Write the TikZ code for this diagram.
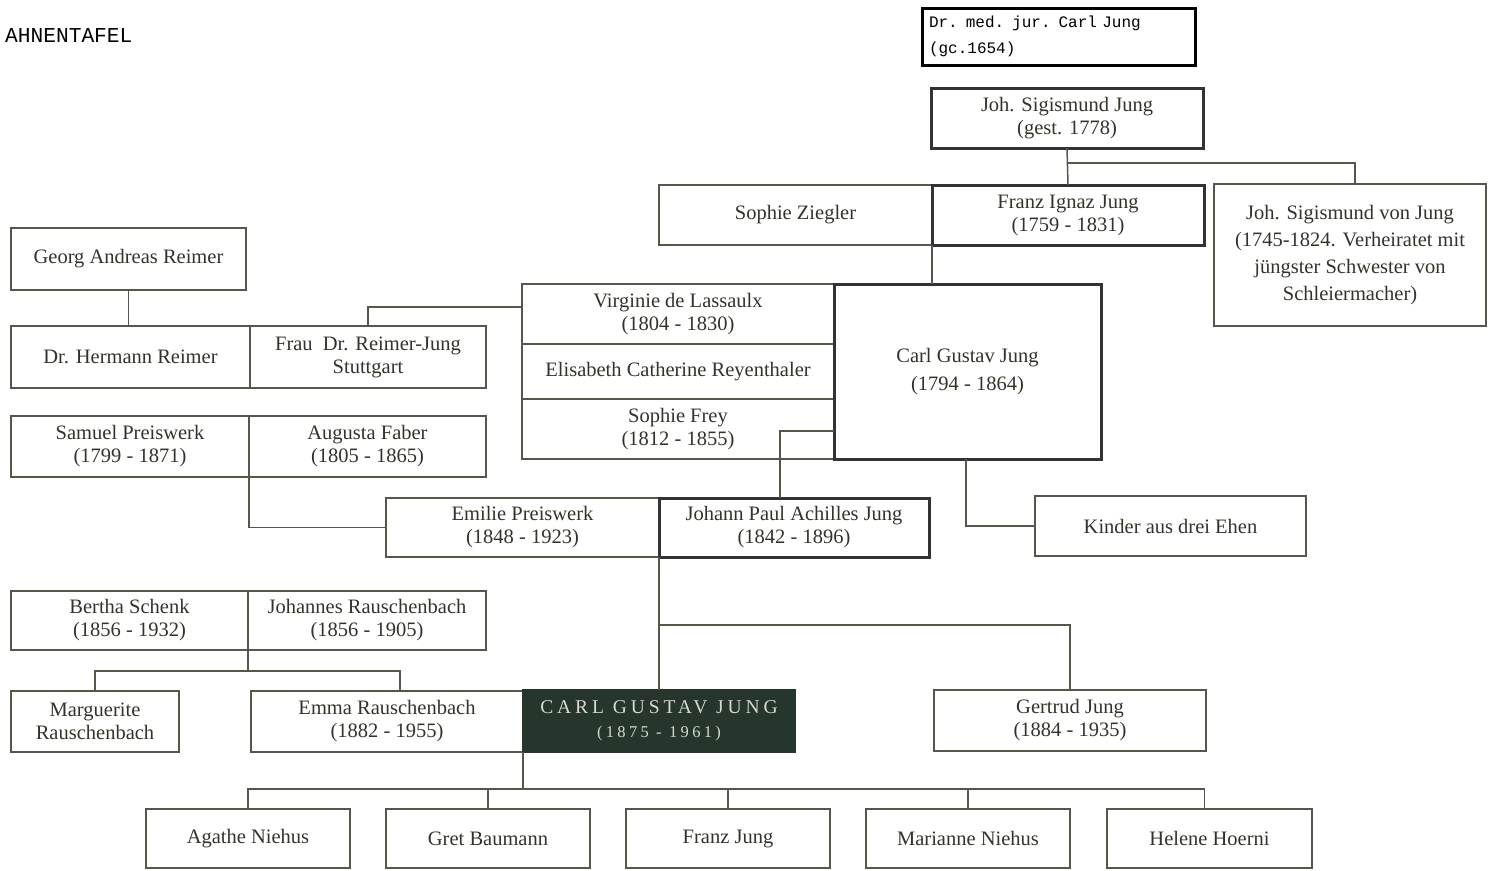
\documentclass[tikz,border=0pt]{standalone}
\usepackage{fontspec}
\setmainfont{Liberation Serif}
\newfontfamily\monof{Liberation Mono}
\newfontfamily\capsf[LetterSpace=20]{Liberation Serif}
\definecolor{ink}{HTML}{33332A}
\definecolor{rulec}{HTML}{55574B}
\definecolor{cgjc}{HTML}{26362C}
\definecolor{capt}{HTML}{D8D8D0}
\tikzset{
  box/.style={draw=rulec, line width=1.6pt, inner sep=0pt, outer sep=0pt, align=center, text=ink, font=\fontsize{20.5}{23}\selectfont},
  heavy/.style={box, draw=black!80, line width=3pt},
  mainbox/.style={box, fill=cgjc, draw=cgjc, text=capt},
  link/.style={draw=rulec, line width=1.5pt},
}
\newcommand{\pbox}[7][box]{\node[#1, minimum width={#5-#3}, minimum height={#6-#4}] (#2) at ({(#3+#5)/2},{(#4+#6)/2}) {#7};}
\begin{document}
\begin{tikzpicture}[x=1pt,y=-1pt]
\useasboundingbox[fill=white] (0,0) rectangle (1490,870);
\node[anchor=west, inner sep=0pt, font=\monof\fontsize{21.2}{24}\selectfont, text=black] (title) at (5,36) {AHNENTAFEL};
\pbox[box, draw=black, line width=3pt, text=black, text width=259pt, align=left, font=\monof\fontsize{16}{26}\selectfont]{dr}{922}{8}{1195}{65}{Dr. med. jur. Carl Jung\\(gc.1654)}
\pbox[heavy]{johsig}{931}{88}{1203}{148}{Joh. Sigismund Jung\\(gest. 1778)}
\pbox{sophz}{659}{185}{932}{245}{Sophie Ziegler}
\pbox[heavy]{franz}{932}{185}{1204}{245}{Franz Ignaz Jung\\(1759 - 1831)}
\pbox[box, font=\fontsize{20.5}{27}\selectfont]{johvon}{1214}{184}{1486}{326}{Joh. Sigismund von Jung\\(1745-1824. Verheiratet mit\\jüngster Schwester von\\Schleiermacher)}
\pbox{georg}{11}{228}{246}{290}{Georg Andreas Reimer}
\pbox{hermann}{11}{326}{250}{388}{Dr. Hermann Reimer}
\pbox{frau}{250}{326}{486}{388}{Frau~ Dr. Reimer-Jung\\Stuttgart}
\pbox{samuel}{11}{416}{249}{477}{Samuel Preiswerk\\(1799 - 1871)}
\pbox{augusta}{249}{416}{486}{477}{Augusta Faber\\(1805 - 1865)}
\pbox{virginie}{522}{284}{834}{344}{Virginie de Lassaulx\\(1804 - 1830)}
\pbox{elisabeth}{522}{344}{834}{399}{Elisabeth Catherine Reyenthaler}
\pbox{sophief}{522}{399}{834}{459}{Sophie Frey\\(1812 - 1855)}
\pbox[heavy, font=\fontsize{20.5}{28}\selectfont]{cg}{834}{284}{1101}{459}{Carl Gustav Jung\\(1794 - 1864)}
\pbox{emilie}{386}{498}{659}{557}{Emilie Preiswerk\\(1848 - 1923)}
\pbox[heavy]{johann}{659}{498}{929}{557}{Johann Paul Achilles Jung\\(1842 - 1896)}
\pbox{kinder}{1035}{496}{1306}{556}{Kinder aus drei Ehen}
\pbox{bertha}{11}{591}{248}{650}{Bertha Schenk\\(1856 - 1932)}
\pbox{johannes}{248}{591}{486}{650}{Johannes Rauschenbach\\(1856 - 1905)}
\pbox{marg}{11}{691}{179}{752}{Marguerite\\Rauschenbach}
\pbox{emma}{251}{691}{523}{752}{Emma Rauschenbach\\(1882 - 1955)}
\pbox[mainbox, font=\capsf\fontsize{19.5}{24}\selectfont]{cgjung}{523}{690}{795}{752}{CARL GUSTAV JUNG\\{\fontsize{16.5}{24}\selectfont (1875 - 1961)}}
\pbox{gertrud}{934}{690}{1206}{751}{Gertrud Jung\\(1884 - 1935)}
\pbox{agathe}{146}{809}{350}{868}{Agathe Niehus}
\pbox{gret}{386}{809}{590}{868}{Gret Baumann}
\pbox{franzj}{626}{809}{830}{868}{Franz Jung}
\pbox{marianne}{866}{809}{1070}{868}{Marianne Niehus}
\pbox{helene}{1107}{809}{1312}{868}{Helene Hoerni}
% connectors
\draw[link] (johsig.south) -- (franz.north);
\path (johsig.south) ++(0,15) coordinate (j1);
\draw[link] (j1) -| ([xshift=5pt]johvon.north);
\draw[link] (franz.south west) -- (franz.south west |- cg.north);
\draw[link] (georg.south) -- (georg.south |- hermann.north);
\draw[link] (frau.north) |- ([yshift=7pt]virginie.west);
\draw[link] (samuel.south east) |- (emilie.west);
\draw[link] ([yshift=28pt]cg.south west) -| ([xshift=-14pt]johann.north);
\draw[link] ([xshift=-1.5pt]cg.south) |- (kinder.west);
\draw[link] (johann.south west) -- (cgjung.north);
\path (johann.south west) ++(0,68) coordinate (g1);
\draw[link] (g1) -| (gertrud.north);
\draw[link] (bertha.south east) -- ++(0,21) coordinate (b1);
\draw[link] (marg.north) |- ([xshift=13pt]emma.north |- b1) -- ([xshift=13pt]emma.north);
\draw[link] (cgjung.south west) -- ++(0,37) coordinate (k1);
\draw[link] (agathe.north) |- ([xshift=-5pt]helene.north |- k1) -- ([xshift=-5pt]helene.north);
\draw[link] (gret.north) -- (gret.north |- k1);
\draw[link] (franzj.north) -- (franzj.north |- k1);
\draw[link] (marianne.north) -- (marianne.north |- k1);
\end{tikzpicture}
\end{document}
